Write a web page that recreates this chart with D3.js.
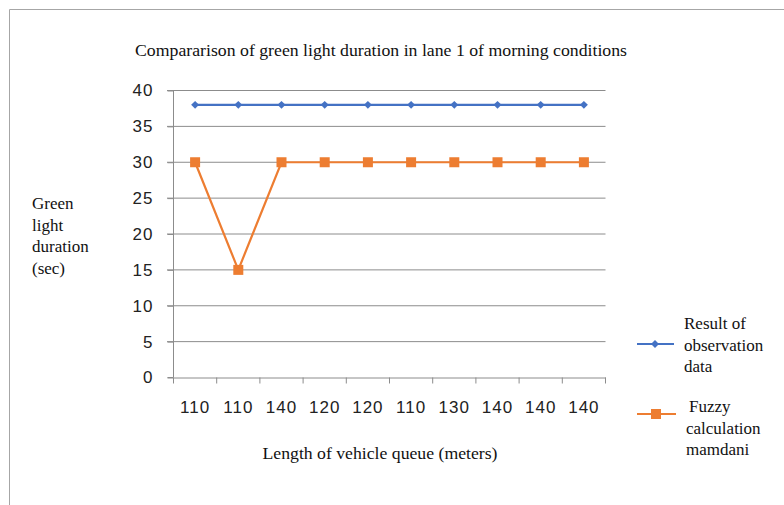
<!DOCTYPE html>
<html><head><meta charset="utf-8">
<script src="https://cdn.jsdelivr.net/npm/d3@7/dist/d3.min.js"></script>
<style>body{margin:0;background:#fff}svg{display:block}</style>
</head><body>
<svg id="c" width="784" height="505"></svg>
<script>
const categories = ["110","110","140","120","120","110","130","140","140","140"];
const observation = [38,38,38,38,38,38,38,38,38,38];
const fuzzy = [30,15,30,30,30,30,30,30,30,30];
const yTicks = [0,5,10,15,20,25,30,35,40];
const seriesNames = [["Result of","observation","data"],["Fuzzy","calculation","mamdani"]];
const title = "Compararison of green light duration in lane 1 of morning conditions";
const yTitle = ["Green","light","duration","(sec)"];
const xTitle = "Length of vehicle queue (meters)";

const svg = d3.select("#c");
const serif = "'Liberation Serif','Times New Roman',serif";
const sans = "'Liberation Sans',Arial,sans-serif";
const blue = "#4472C4", orange = "#ED7D31";

// frame
svg.append("path").attr("d","M9.5,505 L9.5,9.5 L784,9.5").attr("fill","none").attr("stroke","#a6a6a6").attr("stroke-width",1);

const x = d3.scaleBand().domain(d3.range(categories.length)).range([173.5,605.5]);
const y = d3.scaleLinear().domain([0,40]).range([377.5,90.5]);

// gridlines
svg.append("g").selectAll("line").data(yTicks.filter(d=>d>0)).join("line")
  .attr("x1",167).attr("x2",605.5).attr("y1",d=>y(d)).attr("y2",d=>y(d))
  .attr("stroke","#8c8c8c").attr("stroke-width",1);

// y axis
const ya = svg.append("g").attr("transform","translate(173.5,0)")
  .call(d3.axisLeft(y).tickValues(yTicks).tickSize(6).tickPadding(14));
ya.select(".domain").attr("stroke","#8c8c8c").attr("d","M-6,377.5H0V90.5");
ya.selectAll(".tick line").attr("stroke","#8c8c8c");
ya.selectAll("text").attr("font-family",sans).attr("font-size",17).attr("fill","#222").attr("letter-spacing","1px");

// x axis
const xa = svg.append("g").attr("transform","translate(0,377.5)")
  .call(d3.axisBottom(x).tickFormat(i=>categories[i]).tickSize(0).tickPadding(23));
xa.select(".domain").attr("stroke","#8c8c8c");
xa.selectAll("text").attr("font-family",sans).attr("font-size",17).attr("fill","#222").attr("letter-spacing","1px");
const edges = d3.range(categories.length+1).map(i=> i<categories.length ? x(i) : x(categories.length-1)+x.bandwidth());
svg.append("g").selectAll("line").data(edges).join("line")
  .attr("x1",d=>d).attr("x2",d=>d).attr("y1",377.5).attr("y2",383.5)
  .attr("stroke","#8c8c8c");

const cx = i => x(i)+x.bandwidth()/2;
const line = d3.line().x((d,i)=>cx(i)).y(d=>y(d));

svg.append("path").datum(observation).attr("d",line).attr("fill","none").attr("stroke",blue).attr("stroke-width",2.2);
svg.append("g").selectAll("path").data(observation).join("path")
  .attr("d",d3.symbol(d3.symbolDiamond2,40)).attr("transform",(d,i)=>`translate(${cx(i)},${y(d)})`).attr("fill",blue);

svg.append("path").datum(fuzzy).attr("d",line).attr("fill","none").attr("stroke",orange).attr("stroke-width",2.2);
svg.append("g").selectAll("rect").data(fuzzy).join("rect")
  .attr("x",(d,i)=>cx(i)-5).attr("y",d=>y(d)-5).attr("width",10).attr("height",10).attr("fill",orange);

// title
svg.append("text").attr("x",381).attr("y",56).attr("text-anchor","middle")
  .attr("font-family",serif).attr("font-size",17).attr("fill","#111")
  .attr("textLength",492).attr("lengthAdjust","spacingAndGlyphs").text(title);

// y title
svg.append("text").attr("font-family",serif).attr("font-size",17).attr("fill","#111")
  .selectAll("tspan").data(yTitle).join("tspan").attr("x",32).attr("y",(d,i)=>209+i*21.5).text(d=>d);

// x title
svg.append("text").attr("x",380).attr("y",459).attr("text-anchor","middle")
  .attr("font-family",serif).attr("font-size",17).attr("fill","#111")
  .attr("textLength",235).attr("lengthAdjust","spacingAndGlyphs").text(xTitle);

// legend
const lg = svg.append("g");
lg.append("line").attr("x1",637).attr("x2",674).attr("y1",344).attr("y2",344).attr("stroke",blue).attr("stroke-width",2.2);
lg.append("path").attr("d",d3.symbol(d3.symbolDiamond2,40)).attr("transform","translate(655,344)").attr("fill",blue);
lg.append("text").attr("font-family",serif).attr("font-size",17).attr("fill","#111")
  .selectAll("tspan").data(seriesNames[0]).join("tspan").attr("x",684).attr("y",(d,i)=>329+i*21.5).text(d=>d);
lg.append("line").attr("x1",637).attr("x2",676).attr("y1",414).attr("y2",414).attr("stroke",orange).attr("stroke-width",2.2);
lg.append("rect").attr("x",651).attr("y",409).attr("width",10).attr("height",10).attr("fill",orange);
lg.append("text").attr("font-family",serif).attr("font-size",17).attr("fill","#111")
  .selectAll("tspan").data(seriesNames[1]).join("tspan").attr("x",(d,i)=>i===0?689:686).attr("y",(d,i)=>412+i*21.5).text(d=>d);
</script>
</body></html>
